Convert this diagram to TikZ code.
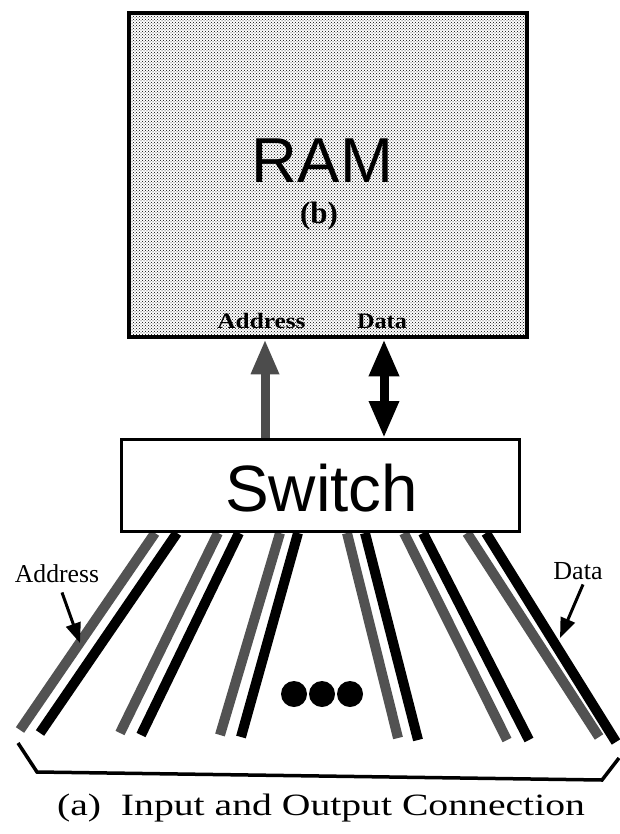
\documentclass[tikz,border=0pt]{standalone}
\usepackage{fontspec}
\setmainfont{Liberation Serif}
\newfontfamily\hvfont{Liberation Sans}
\usetikzlibrary{arrows.meta,patterns,backgrounds,calc}
\begin{document}
\begin{tikzpicture}[x=1pt,y=-1pt,
  rambox/.style={draw, line width=4.5pt, pattern=crosshatch dots, pattern color=black,
    minimum width=398pt, minimum height=324pt, inner sep=0pt},
  switchbox/.style={draw, fill=white, line width=3pt, minimum width=398pt,
    minimum height=92pt, inner sep=0pt},
  gbus/.style={line width=10pt, draw=black!68},
  kbus/.style={line width=10pt, draw=black},
  lblarrow/.style={line width=3pt, -{Triangle[width=15pt,length=20pt]}},
  serif/.style={inner sep=0pt, anchor=base}
]
\useasboundingbox (0,0) rectangle (619,834);

% RAM box
\node[rambox] (ram) at (328,175) {};
\node[font=\hvfont\fontsize{63.5}{70}\selectfont, anchor=base] (ramlbl) at (322.5,183) {RAM};
\node[font=\bfseries\fontsize{31}{34}\selectfont] (blbl) at (319,216) {(b)};
\node[serif, font=\bfseries\fontsize{22}{24}\selectfont, xscale=1.15] (ramaddr) at (261.5,328) {Address};
\node[serif, font=\bfseries\fontsize{22}{24}\selectfont, xscale=1.1] (ramdata) at (382,328) {Data};

% Switch box
\node[switchbox] (switch) at (320.5,485.5) {};
\node[font=\hvfont\fontsize{65.5}{70}\selectfont, anchor=base] (swlbl) at (321.5,511) {Switch};

% arrows between switch and RAM
\draw[line width=9pt, draw=black!70, -{Triangle[width=26pt,length=35pt,fill=black!70]}]
  (switch.north -| 265,0) -- (ram.south -| 265,0);
\draw[line width=9pt, {Triangle[width=28pt,length=37pt]}-{Triangle[width=28pt,length=37pt]}]
  (switch.north -| 384,0) -- (ram.south -| 384,0);

% bus lines
\begin{scope}[on background layer]
  \draw[gbus] (switch.south -| 155,0) -- (20,730);
  \draw[kbus] (switch.south -| 177,0) -- (40,733);
  \draw[gbus] (switch.south -| 218,0) -- (120,733);
  \draw[kbus] (switch.south -| 239,0) -- (141,735);
  \draw[gbus] (switch.south -| 280,0) -- (220,735);
  \draw[kbus] (switch.south -| 298,0) -- (241,737);
  \draw[gbus] (switch.south -| 347,0) -- (398,738);
  \draw[kbus] (switch.south -| 365,0) -- (418,740);
  \draw[gbus] (switch.south -| 404,0) -- (507,740);
  \draw[kbus] (switch.south -| 423,0) -- (529,740);
  \draw[gbus] (switch.south -| 467,0) -- (599,737);
  \draw[kbus] (switch.south -| 486,0) -- (616,742);
\end{scope}

% ellipsis dots
\fill (294,694) circle (13pt);
\fill (322,694) circle (13pt);
\fill (350,694) circle (13pt);

% side labels
\node[serif, font=\fontsize{25.7}{28}\selectfont] (addrlbl) at (57,582) {Address};
\coordinate (addrtip) at (80,643);
\draw[lblarrow] ($(addrlbl.south)+(5,10)$) -- (addrtip);
\node[serif, font=\fontsize{26}{28}\selectfont] (datalbl) at (578,579) {Data};
\coordinate (datatip) at (560,638);
\draw[lblarrow] ($(datalbl.south)+(5,5)$) -- (datatip);

% bracket
\draw[line width=3.5pt, line join=miter] (18,743) -- (37,772) -- (602,780) -- (619,758);

% caption
\node[serif, font=\fontsize{31}{34}\selectfont, xscale=1.28] (cap) at (321,815) {(a)\ \ Input and Output Connection};
\end{tikzpicture}
\end{document}
